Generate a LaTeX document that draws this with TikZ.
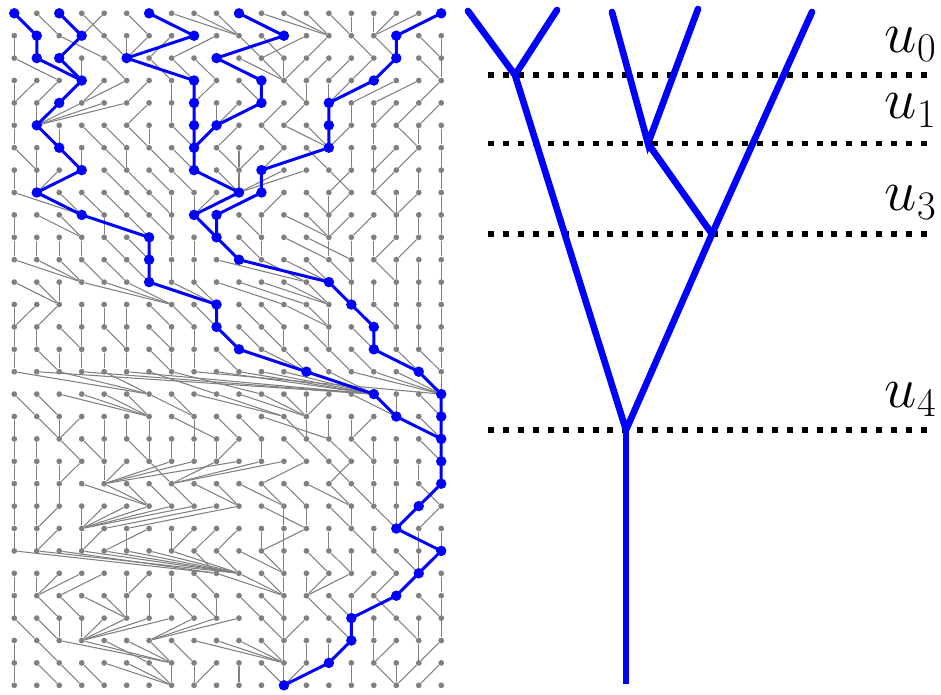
\documentclass[tikz,border=0pt]{standalone}
\usepackage{fix-cm}
\usepackage{amsmath}
\usepackage{tikz}

\begin{document}
\begin{tikzpicture}[x=0.02cm, y=-0.02cm,
  gdot/.style={circle, fill=gray, inner sep=0pt, minimum size=0.115cm},
  bdot/.style={circle, fill=blue, inner sep=0pt, minimum size=0.21cm},
  gline/.style={gray, line width=0.6pt},
  bline/.style={blue, line width=1.7pt},
  tline/.style={blue, line width=3.8pt, line cap=round},
  cut/.style={line width=3.4pt, dash pattern=on 3.4pt off 5.1pt},
  lbl/.style={anchor=south east, inner sep=0pt, font=\fontsize{33}{38}\selectfont}]
\useasboundingbox (0,0) rectangle (941,694);

% Left: the population, one row per generation
\foreach \r in {0,...,30}
  \foreach \c in {0,...,19}
    \node[gdot] (d-\r-\c) at ({14.3+22.47*\c},{13.3+22.4*\r}) {};

% each individual is linked to its parent in the next row
\foreach \r/\plist in {
  0/{1,2,3,4,3,6,8,10,10,10,12,14,14,14,15,15,16,16,16,17},
  1/{0,1,4,2,5,5,5,6,5,7,11,12,9,11,13,16,17,17,19,19},
  2/{2,3,3,3,5,8,7,8,9,11,12,12,12,12,13,14,15,16,19,19},
  3/{0,0,1,2,3,3,5,7,8,8,11,11,13,13,14,14,14,15,16,18},
  4/{0,1,1,1,1,1,5,7,8,9,9,9,11,12,14,15,16,16,17,18},
  5/{0,2,2,4,5,6,6,8,8,8,9,12,14,14,14,14,16,18,18,19},
  6/{1,1,3,3,5,5,7,8,8,10,10,10,11,14,11,15,16,16,17,19},
  7/{0,1,1,1,5,6,7,8,10,10,10,11,10,10,15,14,16,16,18,19},
  8/{3,3,3,4,5,6,7,7,8,8,8,9,11,14,14,14,17,17,17,19},
  9/{0,3,3,6,4,6,7,7,9,9,11,11,14,14,14,14,15,17,18,19},
  10/{0,1,2,3,5,6,6,7,8,10,11,11,14,15,14,15,16,16,17,19},
  11/{3,3,3,4,5,6,6,7,8,13,14,13,14,14,15,15,17,17,18,19},
  12/{2,2,2,7,7,7,9,9,9,12,13,14,14,14,15,15,16,17,18,19},
  13/{0,0,1,3,4,5,7,8,9,9,11,12,14,14,14,16,17,17,18,19},
  14/{0,1,3,3,5,5,7,7,8,10,11,12,12,14,14,16,16,17,18,19},
  15/{0,2,2,3,4,5,7,7,8,10,13,13,13,14,15,16,18,18,19,19},
  16/{6,16,6,16,6,16,9,11,19,16,16,16,16,16,16,19,19,19,19,19},
  17/{1,2,6,6,6,6,8,8,12,12,13,13,13,13,13,17,17,17,19,19},
  18/{0,2,2,2,4,5,6,9,8,10,11,14,13,13,14,15,15,19,19,19},
  19/{0,1,3,4,4,6,6,7,8,9,9,11,13,14,15,16,16,17,19,19},
  20/{0,1,2,2,4,4,7,4,4,7,4,7,7,11,15,14,16,17,18,19},
  21/{0,1,2,6,6,6,7,8,10,10,12,12,13,15,15,16,16,17,19,18},
  22/{0,1,1,3,3,3,3,3,3,4,5,13,12,13,15,15,17,17,17,18},
  23/{0,1,1,3,3,5,4,7,7,8,9,11,12,11,14,16,16,19,18,19},
  24/{9,10,9,10,10,10,10,10,9,10,12,12,12,14,15,15,17,18,18,18},
  25/{0,1,1,1,2,5,5,7,9,12,12,12,12,13,13,13,15,16,17,19},
  26/{0,2,3,5,5,5,6,8,9,9,11,12,12,14,15,15,17,15,19,19},
  27/{1,2,2,3,3,3,3,3,6,6,6,12,12,12,15,15,16,18,18,19},
  28/{0,2,7,7,6,7,7,8,12,12,12,12,12,13,14,14,16,16,18,18},
  29/{0,2,3,4,7,7,7,7,8,8,10,12,12,12,12,15,17,17,17,18}} {
  \pgfmathtruncatemacro\nr{\r+1}
  \foreach \p [count=\c from 0] in \plist
    \draw[gline] (d-\r-\c) -- (d-\nr-\p);
}

% ancestral lines of the five sampled individuals
\draw[bline] (d-0-0) -- (d-1-1) -- (d-2-1) -- (d-3-3);
\draw[bline] (d-0-2) -- (d-1-3) -- (d-2-2) -- (d-3-3) -- (d-4-2) -- (d-5-1) -- (d-6-2)
  -- (d-7-3) -- (d-8-1) -- (d-9-3) -- (d-10-6) -- (d-11-6) -- (d-12-6) -- (d-13-9)
  -- (d-14-9) -- (d-15-10) -- (d-16-13) -- (d-17-16) -- (d-18-17) -- (d-19-19)
  -- (d-20-19) -- (d-21-19) -- (d-22-18) -- (d-23-17) -- (d-24-19) -- (d-25-18)
  -- (d-26-17) -- (d-27-15) -- (d-28-15) -- (d-29-14) -- (d-30-12);
\draw[bline] (d-0-6) -- (d-1-8) -- (d-2-5) -- (d-3-8) -- (d-4-8) -- (d-5-8) -- (d-6-8);
\draw[bline] (d-0-10) -- (d-1-12) -- (d-2-9) -- (d-3-11) -- (d-4-11) -- (d-5-9) -- (d-6-8)
  -- (d-7-8) -- (d-8-10) -- (d-9-8) -- (d-10-9);
\draw[bline] (d-0-19) -- (d-1-17) -- (d-2-17) -- (d-3-16) -- (d-4-14) -- (d-5-14) -- (d-6-14)
  -- (d-7-11) -- (d-8-11) -- (d-9-9) -- (d-10-9) -- (d-11-10) -- (d-12-14) -- (d-13-15)
  -- (d-14-16) -- (d-15-16) -- (d-16-18) -- (d-17-19) -- (d-18-19) -- (d-19-19);

\foreach \r/\c in {0/0,0/2,0/6,0/10,0/19, 1/1,1/3,1/8,1/12,1/17, 2/1,2/2,2/5,2/9,2/17,
  3/3,3/8,3/11,3/16, 4/2,4/8,4/11,4/14, 5/1,5/8,5/9,5/14, 6/2,6/8,6/14, 7/3,7/8,7/11,
  8/1,8/10,8/11, 9/3,9/8,9/9, 10/6,10/9, 11/6,11/10, 12/6,12/14, 13/9,13/15, 14/9,14/16,
  15/10,15/16, 16/13,16/18, 17/16,17/19, 18/17,18/19, 19/19, 20/19, 21/19, 22/18, 23/17,
  24/19, 25/18, 26/17, 27/15, 28/15, 29/14, 30/12}
  \node[bdot] (b-\r-\c) at (d-\r-\c) {};

% Right: the coalescent tree
\coordinate (leaf1) at (468,11);
\coordinate (leaf2) at (557,10);
\coordinate (leaf3) at (612,12);
\coordinate (leaf4) at (698,9);
\coordinate (leaf5) at (812,12);
\coordinate (m0) at (515,75);
\coordinate (m1) at (648,143.5);
\coordinate (m3) at (712,234);
\coordinate (m4) at (626,430);
\coordinate (root) at (626,684);

% coalescence times
\foreach \y/\k in {75/0, 143.5/1, 234/3, 430/4} {
  \coordinate (cw\k) at (488,\y);
  \coordinate (ce\k) at (934,\y);
  \draw[cut] (cw\k) -- (ce\k);
}
\node[lbl] (u0) at (937,62) {$u_0$};
\node[lbl] (u1) at (937,128) {$u_1$};
\node[lbl] (u3) at (937,220) {$u_3$};
\node[lbl] (u4) at (937,417) {$u_4$};

\draw[tline] (leaf1) -- (m0) -- (leaf2);
\draw[tline] (leaf3) -- (m1) -- (leaf4);
\draw[tline] (m1) -- (m3);
\draw[tline] (m0) -- (m4) -- (m3) -- (leaf5);
\draw[tline, line cap=butt] (m4) -- (root);
\end{tikzpicture}
\end{document}
